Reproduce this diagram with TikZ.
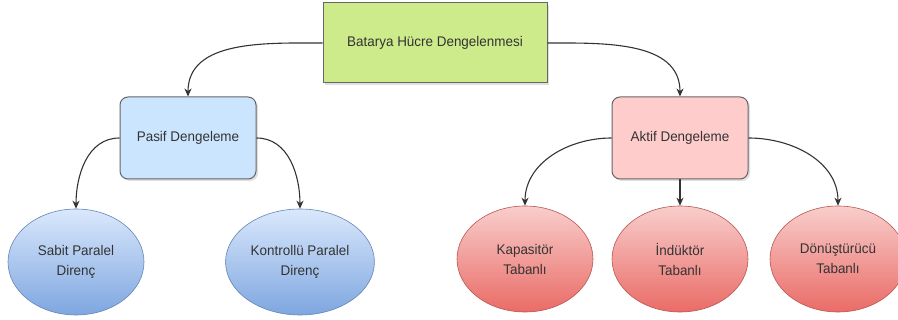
\documentclass[tikz,border=0pt]{standalone}
\usepackage{fontspec}
\setmainfont[FakeStretch=0.96]{Liberation Sans}
\usetikzlibrary{arrows.meta,shapes.geometric,shadows}
\definecolor{txt}{HTML}{333333}
\definecolor{edge}{HTML}{333333}
\definecolor{greenfill}{HTML}{CDEB8B}
\definecolor{bluefill}{HTML}{CCE5FF}
\definecolor{redfill}{HTML}{FFCCCC}
\definecolor{bluetop}{HTML}{DAE8FC}
\definecolor{bluebot}{HTML}{7EA6E0}
\definecolor{redtop}{HTML}{F8CECC}
\definecolor{redbot}{HTML}{EA6B66}
\begin{document}
\begin{tikzpicture}[x=1pt,y=1pt,
  lbl/.style={font=\fontsize{14}{20}\selectfont, text=txt, align=center},
  sqbox/.style={lbl, draw=black!60, line width=1pt, fill=greenfill, minimum width=224pt, minimum height=80pt,
    drop shadow={opacity=0.25, shadow xshift=2pt, shadow yshift=-2pt}},
  rbox/.style={lbl, draw=black!60, line width=1pt, rounded corners=8pt, minimum width=136pt, minimum height=82pt,
    drop shadow={opacity=0.25, shadow xshift=2pt, shadow yshift=-2pt}},
  oval/.style={lbl, ellipse, draw=#1, line width=0.6pt, minimum width=136pt, minimum height=106pt},
  arr/.style={draw=edge, line width=1.1pt, -{Stealth[length=8pt,width=7pt]}}
]
\useasboundingbox (0,0) rectangle (898,-320);
\node[sqbox] (top) at (435,-43) {Batarya Hücre Dengelenmesi};
\node[rbox, fill=bluefill] (pasif) at (188,-138) {Pasif Dengeleme};
\node[rbox, fill=redfill] (aktif) at (680,-138) {Aktif Dengeleme};
\node[oval=bluebot!80!black, top color=bluetop, bottom color=bluebot] (sabit) at (76,-262) {Sabit Paralel\\Direnç};
\node[oval=bluebot!80!black, top color=bluetop, bottom color=bluebot] (kontrol) at (300,-262) {Kontrollü Paralel\\Direnç};
\node[oval=redbot!80!black, top color=redtop, bottom color=redbot] (kap) at (525,-259) {Kapasitör\\Tabanlı};
\node[oval=redbot!80!black, top color=redtop, bottom color=redbot] (ind) at (680,-259) {İndüktör\\Tabanlı};
\node[oval=redbot!80!black, top color=redtop, bottom color=redbot] (don) at (838,-259) {Dönüştürücü\\Tabanlı};
\draw[arr] (top.west) to[out=180,in=90] (pasif.north);
\draw[arr] (top.east) to[out=0,in=90] (aktif.north);
\draw[arr] (pasif.west) to[out=180,in=90] (sabit.north);
\draw[arr] (pasif.east) to[out=0,in=90] (kontrol.north);
\draw[arr] (aktif.west) to[out=180,in=90] (kap.north);
\draw[arr] (aktif.south) -- (ind.north);
\draw[arr] (aktif.east) to[out=0,in=90] (don.north);
\end{tikzpicture}
\end{document}
